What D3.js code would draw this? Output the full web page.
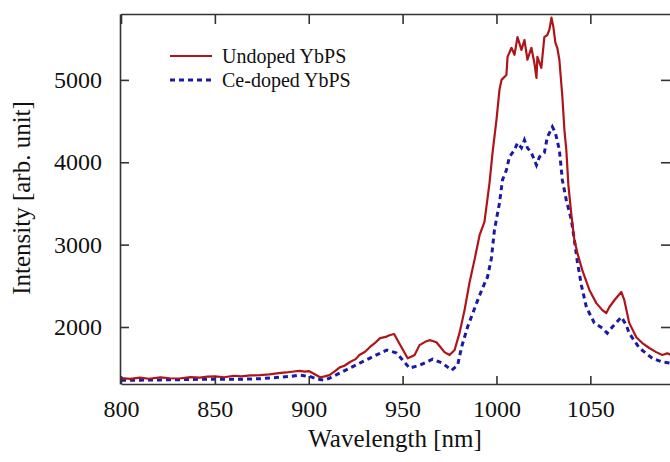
<!DOCTYPE html>
<html>
<head>
<meta charset="utf-8">
<script src="https://cdn.jsdelivr.net/npm/d3@7"></script>
<style>
  body { margin: 0; background: #fff; }
  svg { display: block; }
  text { font-family: "Liberation Serif", "Times New Roman", serif; fill: #111; }
</style>
</head>
<body>
<div id="container"></div>
<script>
////////// DATA

// Undoped YbPS: wavelength [nm] / intensity [arb. unit]
var undopedWl = [800, 805, 810, 815, 821, 826, 831, 837, 842, 846, 850, 855, 860, 864, 869, 874, 879, 884, 888, 892, 895, 898, 900, 903, 906, 908.5, 911, 914, 916.5, 919, 922, 925, 927, 930, 932.5, 935, 938, 941, 943, 945.5, 947.3, 950, 952.7, 954.5, 956.4, 959, 962, 964.4, 966, 968, 970, 972.3, 975, 977.7, 980.3, 983, 985.6, 988.3, 991, 993.6, 996.3, 997.9, 1000, 1001.6, 1002.7, 1005.3, 1005.9, 1008, 1009.6, 1011.2, 1013.3, 1014.9, 1016.5, 1018.6, 1020.2, 1021.3, 1021.8, 1023.9, 1025.5, 1027.1, 1028.2, 1029.3, 1030.3, 1031.4, 1032.4, 1033.5, 1035.1, 1036.2, 1037.2, 1038.3, 1039.9, 1041.5, 1043.1, 1045.7, 1049.5, 1053.2, 1056.4, 1058.5, 1060.1, 1062.8, 1066.5, 1068.1, 1070.7, 1074.5, 1077.7, 1081.4, 1085.1, 1088.3, 1091, 1093];
var undopedVal = [1380, 1370, 1385, 1372, 1388, 1378, 1375, 1392, 1385, 1398, 1400, 1390, 1408, 1400, 1412, 1415, 1425, 1440, 1448, 1460, 1468, 1458, 1465, 1430, 1390, 1400, 1415, 1465, 1510, 1530, 1575, 1610, 1660, 1700, 1755, 1800, 1865, 1880, 1900, 1915, 1840, 1730, 1620, 1640, 1660, 1780, 1820, 1840, 1830, 1815, 1760, 1695, 1660, 1720, 1925, 2205, 2535, 2815, 3115, 3275, 3750, 4115, 4515, 4880, 5000, 5060, 5280, 5390, 5305, 5520, 5365, 5485, 5245, 5390, 5205, 5025, 5280, 5145, 5520, 5545, 5610, 5755, 5645, 5450, 5390, 5245, 4795, 4390, 4150, 3725, 3360, 3055, 2900, 2690, 2450, 2290, 2205, 2170, 2240, 2325, 2425, 2325, 2050, 1875, 1805, 1745, 1695, 1660, 1680, 1660];

// Ce-doped YbPS
var cedopedWl = [800, 810, 821, 831, 842, 852, 863, 874, 885, 890, 895, 900.5, 904.8, 908.5, 911.2, 916.5, 921.8, 927, 932.4, 937, 941.5, 946.8, 950, 953.7, 959, 966, 971.3, 976.1, 979.3, 981.4, 984.6, 989.4, 992.6, 995.2, 997.3, 998.9, 1001.6, 1003.2, 1005.3, 1006.9, 1009.6, 1011.2, 1013.3, 1014.9, 1016.5, 1018.6, 1021.3, 1022.9, 1025.5, 1027.1, 1029.8, 1031.4, 1033.5, 1035.1, 1037.2, 1039.9, 1041.5, 1043.1, 1045.2, 1047.9, 1052.1, 1056.4, 1059, 1061.7, 1066.5, 1069.1, 1070.7, 1076.1, 1083, 1088.3, 1093];
var cedopedVal = [1355, 1355, 1358, 1360, 1365, 1365, 1365, 1372, 1390, 1400, 1415, 1400, 1365, 1355, 1380, 1440, 1500, 1560, 1620, 1670, 1720, 1685, 1600, 1500, 1535, 1610, 1560, 1475, 1535, 1755, 2000, 2290, 2475, 2605, 2835, 3175, 3505, 3785, 3905, 4065, 4150, 4235, 4175, 4270, 4175, 4115, 3965, 4065, 4115, 4305, 4430, 4355, 4150, 3785, 3540, 3300, 3055, 2790, 2510, 2240, 2050, 1985, 1925, 2000, 2120, 2025, 1925, 1745, 1620, 1575, 1560];

var seriesNames = ["Undoped YbPS", "Ce-doped YbPS"];
var xTicks = [800, 850, 900, 950, 1000, 1050];
var yTicks = [2000, 3000, 4000, 5000];

////////// DRAWING

var gWidth = 670, gHeight = 462;
var mLeft = 120, mRight = 672, mTop = 14, mBottom = 384; // plot frame in pixels
var colorRed = "#ae1518";
var colorBlue = "#1a1aa6";
var axisColor = "#333";

var svg = d3.select("#container").append("svg")
	.attr("width", gWidth)
	.attr("height", gHeight);

var x = d3.scaleLinear().domain([800, 1093.5]).range([mLeft + 1, mRight]);
var y = d3.scaleLinear().domain([1308, 5800]).range([mBottom, mTop]);

// clip to the plot frame
svg.append("clipPath").attr("id", "plotClip")
	.append("rect")
	.attr("x", mLeft).attr("y", mTop)
	.attr("width", mRight - mLeft).attr("height", mBottom - mTop);

function makeRows(wl, vals)
{
	return wl.map(function(d, i) { return {wl: d, v: vals[i]}; });
}

var line = d3.line()
	.x(function(d) { return x(d.wl); })
	.y(function(d) { return y(d.v); });

var plot = svg.append("g").attr("clip-path", "url(#plotClip)");

// blue dotted first, red on top
plot.append("path")
	.datum(makeRows(cedopedWl, cedopedVal))
	.attr("d", line)
	.attr("fill", "none")
	.attr("stroke", colorBlue)
	.attr("stroke-width", 3)
	.attr("stroke-dasharray", "5,4");

plot.append("path")
	.datum(makeRows(undopedWl, undopedVal))
	.attr("d", line)
	.attr("fill", "none")
	.attr("stroke", colorRed)
	.attr("stroke-width", 2.2)
	.attr("stroke-linejoin", "round");

// axes: bottom/left with labels, top/right mirrored ticks, all inward
var fmt = d3.format("d");
var axBottom = svg.append("g")
	.attr("transform", "translate(0," + mBottom + ")")
	.call(d3.axisBottom(x).tickValues(xTicks).tickFormat(fmt).tickSizeInner(-8).tickSizeOuter(0).tickPadding(16));
var axTop = svg.append("g")
	.attr("transform", "translate(0," + mTop + ")")
	.call(d3.axisTop(x).tickValues(xTicks).tickSizeInner(-10).tickSizeOuter(0).tickFormat(""));
var axLeft = svg.append("g")
	.attr("transform", "translate(" + mLeft + ",0)")
	.call(d3.axisLeft(y).tickValues(yTicks).tickFormat(fmt).tickSizeInner(-9).tickSizeOuter(0).tickPadding(18));
var axRight = svg.append("g")
	.attr("transform", "translate(" + (mRight - 2) + ",0)")
	.call(d3.axisRight(y).tickValues(yTicks).tickSizeInner(-9).tickSizeOuter(0).tickFormat(""));

[axBottom, axTop, axLeft, axRight].forEach(function(a)
{
	a.attr("font-family", null).attr("font-size", null);
	a.selectAll("path.domain").attr("stroke", axisColor).attr("stroke-width", 1.6);
	a.selectAll(".tick line").attr("stroke", axisColor).attr("stroke-width", 1.6);
	a.selectAll(".tick text")
		.style("font-family", "'Liberation Serif', serif")
		.style("font-size", "24px")
		.attr("fill", "#111");
});
axRight.select("path.domain").remove();

// axis titles
svg.append("text")
	.attr("x", 395)
	.attr("y", 447)
	.attr("text-anchor", "middle")
	.style("font-size", "25px")
	.text("Wavelength [nm]");

svg.append("text")
	.attr("transform", "translate(30,198) rotate(-90)")
	.attr("text-anchor", "middle")
	.style("font-size", "25px")
	.text("Intensity [arb. unit]");

// legend
var legend = [
	{name: seriesNames[0], color: colorRed, dash: null, width: 2.2},
	{name: seriesNames[1], color: colorBlue, dash: "5,4", width: 3}
];
legend.forEach(function(d, i)
{
	var ly = 56 + i * 24;
	svg.append("line")
		.attr("x1", 170).attr("x2", 212)
		.attr("y1", ly).attr("y2", ly)
		.attr("stroke", d.color)
		.attr("stroke-width", d.width)
		.attr("stroke-dasharray", d.dash);
	svg.append("text")
		.attr("x", 222)
		.attr("y", ly + 7)
		.style("font-size", "20px")
		.text(d.name);
});
</script>
</body>
</html>
